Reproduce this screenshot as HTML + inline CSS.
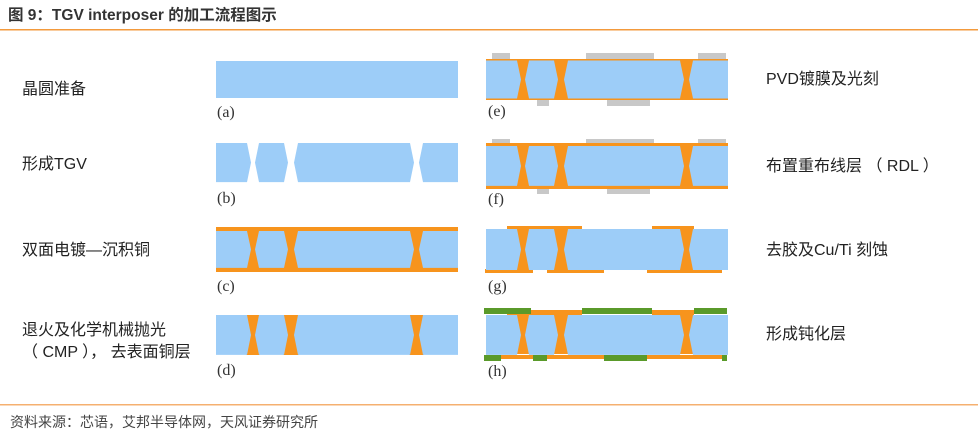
<!DOCTYPE html>
<html><head><meta charset="utf-8"><style>
body{margin:0;background:#fff;width:978px;height:441px;overflow:hidden;font-family:"Liberation Sans","Noto Sans CJK SC",sans-serif}
svg{display:block}
.t{font-family:"Liberation Sans","Noto Sans CJK SC",sans-serif;font-size:16px;fill:#222}
.l{font-family:"Liberation Serif",serif;font-size:16px;fill:#333}
</style></head><body>
<svg width="978" height="441" viewBox="0 0 978 441" xmlns="http://www.w3.org/2000/svg">
<defs>
<g id="blk">
<polygon points="216,0 247,0 251,19 247,38 216,38"/>
<polygon points="259,0 284,0 288,19 284,38 259,38 255,19"/>
<polygon points="298,0 410,0 414,19 410,38 298,38 294,19"/>
<polygon points="423,0 458,0 458,38 423,38 419,19"/>
</g>
<g id="gaps">
<rect x="246" y="0" width="14" height="40"/>
<rect x="283" y="0" width="16" height="40"/>
<rect x="409" y="0" width="15" height="40"/>
</g>
</defs>
<text x="8" y="20" style="font-size:15.5px;font-weight:bold;fill:#333;font-family:'Liberation Sans','Noto Sans CJK SC',sans-serif">图 9：TGV interposer 的加工流程图示</text>
<rect x="0" y="29" width="978" height="1.5" fill="#f39a3c"/>
<rect x="0" y="404" width="978" height="1.5" fill="#f5b070"/>
<text x="10" y="427" style="font-size:14px;fill:#444;font-family:'Liberation Sans','Noto Sans CJK SC',sans-serif">资料来源：芯语，艾邦半导体网，天风证券研究所</text>

<text class="t" x="22" y="94">晶圆准备</text>
<text class="t" x="22" y="169">形成TGV</text>
<text class="t" x="22" y="255">双面电镀—沉积铜</text>
<text class="t" x="22" y="335">退火及化学机械抛光</text>
<text class="t" x="22" y="357">（ CMP ）， 去表面铜层</text>
<text class="t" x="766" y="84">PVD镀膜及光刻</text>
<text class="t" x="766" y="171">布置重布线层 （ RDL ）</text>
<text class="t" x="766" y="255">去胶及Cu/Ti 刻蚀</text>
<text class="t" x="766" y="339">形成钝化层</text>

<rect x="216" y="61" width="242" height="37" fill="#9dcdf8"/>
<text class="l" x="217" y="117">(a)</text>
<g fill="#9dcdf8" transform="translate(0,143) scale(1,1.03)"><use href="#blk"/></g>
<text class="l" x="217" y="203">(b)</text>
<rect x="216" y="227" width="242" height="45" fill="#f7941d"/>
<g fill="#9dcdf8" transform="translate(0,231) scale(1,0.97)"><use href="#blk"/></g>
<text class="l" x="217" y="291">(c)</text>
<g fill="#f7941d" transform="translate(0,315)"><use href="#gaps"/></g>
<g fill="#9dcdf8" transform="translate(0,315) scale(1,1.05)"><use href="#blk"/></g>
<text class="l" x="217" y="375">(d)</text>

<g fill="#c8c8c8">
<rect x="492" y="53" width="18" height="6"/><rect x="586" y="53" width="68" height="6"/><rect x="698" y="53" width="28" height="6"/>
<rect x="537" y="100" width="12" height="6"/><rect x="607" y="100" width="43" height="6"/>
</g>
<rect x="486" y="59" width="242" height="41" fill="#f7941d"/>
<g fill="#f7941d" transform="translate(270,60)"><use href="#gaps"/></g>
<g fill="#9dcdf8" transform="translate(270,60.5) scale(1,1.0)"><use href="#blk"/></g>
<text class="l" x="488" y="116">(e)</text>
<g fill="#c8c8c8">
<rect x="492" y="139" width="18" height="6"/><rect x="586" y="139" width="68" height="6"/><rect x="698" y="139" width="28" height="6"/>
<rect x="537" y="188" width="12" height="6"/><rect x="607" y="188" width="43" height="6"/>
</g>
<rect x="486" y="143" width="242" height="46" fill="#f7941d"/>
<g fill="#c8c8c8">
<rect x="492" y="139" width="18" height="4"/><rect x="586" y="139" width="68" height="4"/><rect x="698" y="139" width="28" height="4"/>
<rect x="537" y="189" width="12" height="5"/><rect x="607" y="189" width="43" height="5"/>
</g>
<g fill="#9dcdf8" transform="translate(270,146) scale(1,1.05)"><use href="#blk"/></g>
<text class="l" x="488" y="204">(f)</text>
<g fill="#f7941d">
<rect x="507" y="226" width="75" height="4"/><rect x="652" y="226" width="42" height="4"/>
<rect x="485" y="269" width="48" height="4"/><rect x="547" y="269" width="57" height="4"/><rect x="647" y="269" width="75" height="4"/>
</g>
<g fill="#f7941d" transform="translate(270,229) scale(1,1.03)"><use href="#gaps"/></g>
<g fill="#9dcdf8" transform="translate(270,229) scale(1,1.08)"><use href="#blk"/></g>
<text class="l" x="488" y="291">(g)</text>
<g fill="#f7941d">
<rect x="507" y="310" width="75" height="5"/><rect x="652" y="310" width="42" height="5"/>
<rect x="485" y="355" width="48" height="4"/><rect x="547" y="355" width="57" height="4"/><rect x="647" y="355" width="75" height="4"/>
</g>
<g fill="#5a9a2a">
<rect x="484" y="308" width="47" height="6"/><rect x="582" y="308" width="70" height="6"/><rect x="694" y="308" width="33" height="6"/>
<rect x="484" y="355" width="17" height="6"/><rect x="533" y="355" width="14" height="6"/><rect x="604" y="355" width="43" height="6"/><rect x="722" y="355" width="5" height="6"/>
</g>
<g fill="#f7941d" transform="translate(270,314)"><use href="#gaps"/></g>
<g fill="#9dcdf8" transform="translate(270,315) scale(1,1.05)"><use href="#blk"/></g>
<text class="l" x="488" y="376">(h)</text>
</svg>
</body></html>
